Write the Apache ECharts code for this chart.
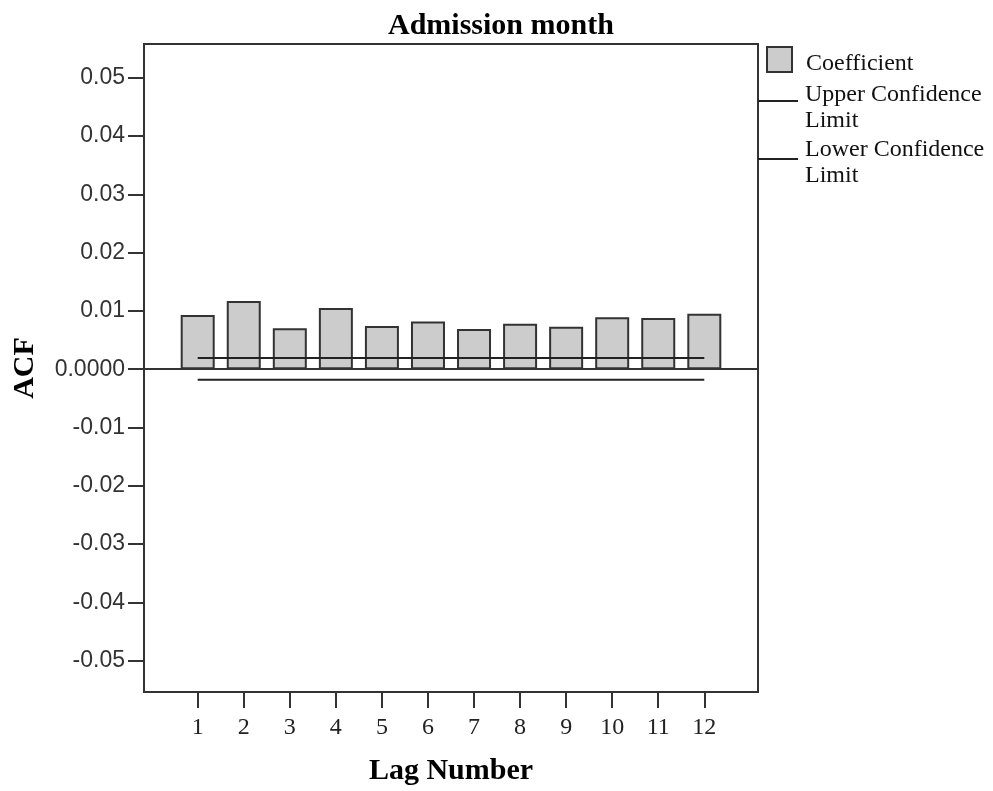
<!DOCTYPE html>
<html>
<head>
<meta charset="utf-8">
<title>Admission month</title>
<script src="https://cdn.jsdelivr.net/npm/echarts@6.0.0/dist/echarts.min.js"></script>
<style>
  html, body { margin: 0; padding: 0; background: #fff; }
  #main { width: 993px; height: 791px; }
</style>
</head>
<body>
<div id="main"></div>
<script>
// 数据
const lags = [1, 2, 3, 4, 5, 6, 7, 8, 9, 10, 11, 12];
const acfValues = [0.0093, 0.0117, 0.0070, 0.0105, 0.0074, 0.0082, 0.0069, 0.0078, 0.0073, 0.0089, 0.0088, 0.0095];
const upperLimit = [0.0019, 0.0019, 0.0019, 0.0019, 0.0019, 0.0019, 0.0019, 0.0019, 0.0019, 0.0019, 0.0019, 0.0019];
const lowerLimit = [-0.0018, -0.0018, -0.0018, -0.0018, -0.0018, -0.0018, -0.0018, -0.0018, -0.0018, -0.0018, -0.0018, -0.0018];
const yTicks = [-0.05, -0.04, -0.03, -0.02, -0.01, 0, 0.01, 0.02, 0.03, 0.04, 0.05];

const serif = 'Liberation Serif';
const sans = 'Liberation Sans';
const axisColor = '#333';

function pairs(values) {
  return lags.map((l, i) => [l, values[i]]);
}

// 图例文字：第一行是空行，用来把文字往下挪一点
function legendText(gap, indent) {
  return {
    fontFamily: serif, fontSize: 24, lineHeight: 26, color: '#111',
    rich: {
      s: { fontSize: 1, lineHeight: gap },
      c: { fontFamily: serif, fontSize: 24, lineHeight: 26, color: '#111', padding: [0, 0, 0, indent] }
    }
  };
}

let chart = echarts.init(document.getElementById('main'));

let option = {
  backgroundColor: '#fff',
  animation: false,
  title: {
    text: 'Admission month',
    left: 383,
    top: 6,
    textStyle: { fontFamily: serif, fontSize: 30, fontWeight: 'bold', color: '#000' }
  },
  // 图例 三个分开摆放
  legend: [
    {
      left: 766, top: 42, padding: 0,
      icon: 'rect',
      itemWidth: 25, itemHeight: 25,
      data: ['Coefficient'],
      formatter: () => '{s| }\n{c|Coefficient}',
      textStyle: legendText(9, 9)
    },
    {
      left: 758, top: 68, padding: 0,
      icon: 'rect',
      itemWidth: 40, itemHeight: 2,
      data: ['Upper Confidence Limit'],
      formatter: () => '{s| }\n{c|Upper Confidence}\n{c|Limit}',
      textStyle: legendText(14, 2)
    },
    {
      left: 758, top: 129, padding: 0,
      icon: 'rect',
      itemWidth: 40, itemHeight: 2,
      data: ['Lower Confidence Limit'],
      formatter: () => '{s| }\n{c|Lower Confidence}\n{c|Limit}',
      textStyle: legendText(8, 2)
    }
  ],
  grid: {
    left: 144, right: 235, top: 44, bottom: 93,
    show: true,
    borderColor: axisColor,
    borderWidth: 2
  },
  xAxis: {
    type: 'value',
    min: -0.166,
    max: 13.166,
    name: 'Lag Number',
    nameLocation: 'middle',
    nameGap: 64,
    nameTextStyle: { fontFamily: serif, fontSize: 30, fontWeight: 'bold', color: '#000' },
    axisLine: { show: true, onZero: false, lineStyle: { color: axisColor, width: 2 } },
    axisTick: { show: true, length: 16, customValues: lags, lineStyle: { color: axisColor, width: 2 } },
    axisLabel: {
      customValues: lags,
      margin: 24,
      fontFamily: serif, fontSize: 24, color: '#222'
    },
    splitLine: { show: false }
  },
  yAxis: {
    type: 'value',
    min: -0.0554,
    max: 0.0558,
    name: 'ACF',
    nameLocation: 'middle',
    nameRotate: 90,
    nameGap: 104,
    nameTextStyle: { fontFamily: serif, fontSize: 30, fontWeight: 'bold', color: '#000' },
    axisLine: { show: true, onZero: false, lineStyle: { color: axisColor, width: 2 } },
    axisTick: { show: true, length: 16, customValues: yTicks, lineStyle: { color: axisColor, width: 2 } },
    axisLabel: {
      customValues: yTicks,
      margin: 19,
      fontFamily: sans, fontSize: 23, color: '#333',
      formatter: v => (Math.abs(v) < 1e-9 ? '0.0000' : v.toFixed(2))
    },
    splitLine: { show: false }
  },
  series: [
    {
      name: 'Coefficient',
      type: 'bar',
      barWidth: 34,
      data: pairs(acfValues),
      itemStyle: { color: '#cccccc', borderColor: axisColor, borderWidth: 2 },
      z: 2,
      // 零线
      markLine: {
        silent: true,
        symbol: ['none', 'none'],
        label: { show: false },
        lineStyle: { color: axisColor, width: 2, type: 'solid' },
        data: [{ yAxis: 0 }]
      }
    },
    {
      name: 'Upper Confidence Limit',
      type: 'line',
      data: pairs(upperLimit),
      showSymbol: false,
      symbol: 'none',
      color: '#222',
      lineStyle: { color: '#222', width: 2 },
      z: 5
    },
    {
      name: 'Lower Confidence Limit',
      type: 'line',
      data: pairs(lowerLimit),
      showSymbol: false,
      symbol: 'none',
      color: '#222',
      lineStyle: { color: '#222', width: 2 },
      z: 5
    }
  ]
};

chart.setOption(option);
</script>
</body>
</html>
